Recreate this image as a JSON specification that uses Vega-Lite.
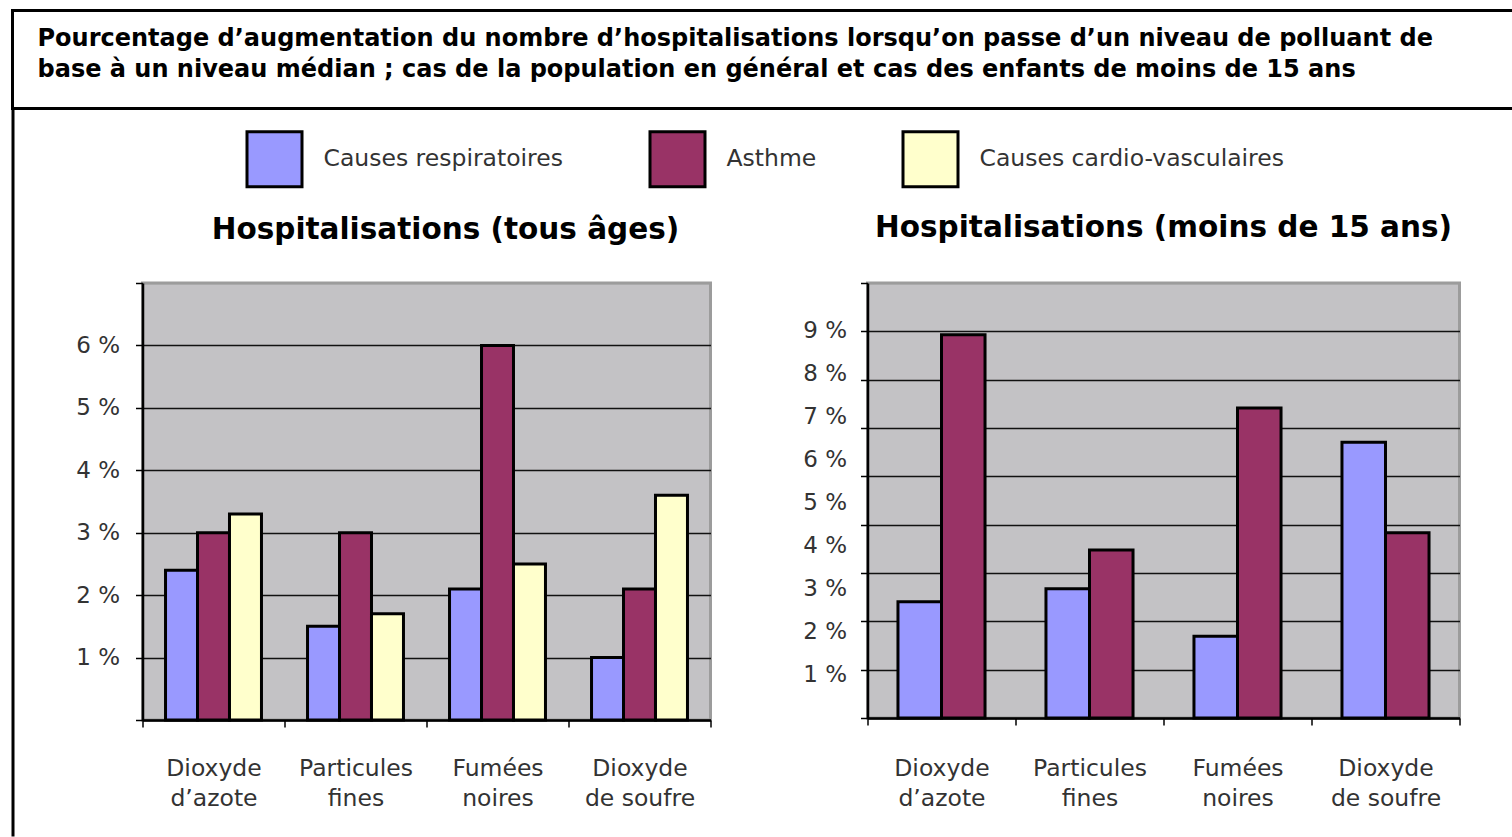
{
  "$schema": "https://vega.github.io/schema/vega-lite/v6.json",
  "padding": {"left": 10.5, "top": 8.5, "right": -6.5, "bottom": 0},
  "background": "#ffffff",
  "datasets": {
    "all": [
      {"pollutant": "Dioxyde d’azote", "cause": "Causes respiratoires", "value": 2.4},
      {"pollutant": "Dioxyde d’azote", "cause": "Asthme", "value": 3.0},
      {"pollutant": "Dioxyde d’azote", "cause": "Causes cardio-vasculaires", "value": 3.3},
      {"pollutant": "Particules fines", "cause": "Causes respiratoires", "value": 1.5},
      {"pollutant": "Particules fines", "cause": "Asthme", "value": 3.0},
      {"pollutant": "Particules fines", "cause": "Causes cardio-vasculaires", "value": 1.7},
      {"pollutant": "Fumées noires", "cause": "Causes respiratoires", "value": 2.1},
      {"pollutant": "Fumées noires", "cause": "Asthme", "value": 6.0},
      {"pollutant": "Fumées noires", "cause": "Causes cardio-vasculaires", "value": 2.5},
      {"pollutant": "Dioxyde de soufre", "cause": "Causes respiratoires", "value": 1.0},
      {"pollutant": "Dioxyde de soufre", "cause": "Asthme", "value": 2.1},
      {"pollutant": "Dioxyde de soufre", "cause": "Causes cardio-vasculaires", "value": 3.6}
    ],
    "kids": [
      {"pollutant": "Dioxyde d’azote", "cause": "Causes respiratoires", "value": 2.7},
      {"pollutant": "Dioxyde d’azote", "cause": "Asthme", "value": 8.9},
      {"pollutant": "Particules fines", "cause": "Causes respiratoires", "value": 3.0},
      {"pollutant": "Particules fines", "cause": "Asthme", "value": 3.9},
      {"pollutant": "Fumées noires", "cause": "Causes respiratoires", "value": 1.9},
      {"pollutant": "Fumées noires", "cause": "Asthme", "value": 7.2},
      {"pollutant": "Dioxyde de soufre", "cause": "Causes respiratoires", "value": 6.4},
      {"pollutant": "Dioxyde de soufre", "cause": "Asthme", "value": 4.3}
    ]
  },
  "spacing": -4.5,
  "vconcat": [
    {
      "width": 1505,
      "height": 98,
      "data": {"values": []},
      "mark": "point",
      "encoding": {},
      "view": {"stroke": "#000000", "strokeWidth": 3, "fill": "#ffffff"},
      "title": {
        "text": [
          "Pourcentage d’augmentation du nombre d’hospitalisations lorsqu’on passe d’un niveau de polluant de",
          "base à un niveau médian ; cas de la population en général et cas des enfants de moins de 15 ans"
        ],
        "orient": "top",
        "anchor": "start",
        "frame": "group",
        "baseline": "top",
        "offset": -71,
        "dx": 25,
        "font": "DejaVu Sans",
        "fontSize": 24,
        "fontWeight": "bold",
        "color": "#000000",
        "lineHeight": 31
      }
    },
    {
      "spacing": 60,
      "align": "none",
      "hconcat": [
        {
          "width": 1,
          "height": 553,
          "data": {"values": []},
          "mark": "point",
          "view": {"stroke": null, "fill": null},
          "encoding": {
            "y": {
              "field": "v",
              "type": "quantitative",
              "scale": {"domain": [0, 1], "range": [553, -176]},
              "axis": {
                "title": null,
                "labels": false,
                "ticks": false,
                "grid": false,
                "domain": true,
                "domainColor": "#000000",
                "domainWidth": 3
              }
            }
          }
        },
        {
          "spacing": -492,
          "resolve": {"legend": {"color": "independent"}, "scale": {"xOffset": "independent"}},
          "hconcat": [
            {
              "width": 568,
              "height": 437,
              "data": {"name": "all"},
              "view": {"fill": "#c3c2c5", "stroke": "#9c9c9c", "strokeWidth": 3},
              "title": {
                "text": "Hospitalisations (tous âges)",
                "font": "DejaVu Sans",
                "fontSize": 29.5,
                "fontWeight": "bold",
                "color": "#000000",
                "anchor": "middle",
                "frame": "group",
                "baseline": "bottom",
                "offset": 7.5,
                "dx": 19
              },
              "mark": {"type": "bar", "stroke": "#000000", "strokeWidth": 3},
              "encoding": {
                "x": {
                  "field": "pollutant",
                  "type": "nominal",
                  "sort": ["Dioxyde d’azote", "Particules fines", "Fumées noires", "Dioxyde de soufre"],
                  "scale": {"paddingInner": 0, "paddingOuter": 0},
                  "axis": {
                    "title": null,
                    "tickBand": "extent",
                    "labelAngle": 0,
                    "labelExpr": "indexof(datum.label, ' ') > 0 ? [substring(datum.label, 0, indexof(datum.label, ' ')), substring(datum.label, indexof(datum.label, ' ') + 1)] : datum.label",
                    "labelFont": "DejaVu Sans",
                    "labelFontSize": 23.5,
                    "labelLineHeight": 30,
                    "labelColor": "#333333",
                    "labelPadding": 29,
                    "tickSize": 7,
                    "tickColor": "#000000",
                    "tickWidth": 1.5,
                    "domainColor": "#000000",
                    "domainWidth": 2.5,
                    "grid": false
                  }
                },
                "xOffset": {
                  "field": "cause",
                  "type": "nominal",
                  "sort": ["Causes respiratoires", "Asthme", "Causes cardio-vasculaires"],
                  "scale": {"paddingInner": 0, "paddingOuter": 0.72}
                },
                "y": {
                  "field": "value",
                  "type": "quantitative",
                  "scale": {"domain": [0, 7], "nice": false},
                  "axis": {
                    "title": null,
                    "values": [0, 1, 2, 3, 4, 5, 6, 7],
                    "labelExpr": "datum.value >= 1 && datum.value <= 6 ? datum.value + ' %' : ''",
                    "labelFont": "DejaVu Sans",
                    "labelFontSize": 23,
                    "labelColor": "#333333",
                    "labelPadding": 16,
                    "tickSize": 7,
                    "tickColor": "#000000",
                    "tickWidth": 1.5,
                    "domainColor": "#000000",
                    "domainWidth": 2.5,
                    "grid": true,
                    "gridColor": {"condition": {"test": "datum.value == 7", "value": "#9c9c9c"}, "value": "#111111"},
                    "gridWidth": 1.5
                  }
                },
                "color": {
                  "field": "cause",
                  "type": "nominal",
                  "scale": {
                    "domain": ["Causes respiratoires", "Asthme", "Causes cardio-vasculaires"],
                    "range": ["#9999ff", "#993366", "#ffffcc"]
                  },
                  "legend": null
                }
              }
            },
            {
              "width": 592,
              "height": 435,
              "data": {"name": "kids"},
              "view": {"fill": "#c3c2c5", "stroke": "#9c9c9c", "strokeWidth": 3},
              "title": {
                "text": "Hospitalisations (moins de 15 ans)",
                "font": "DejaVu Sans",
                "fontSize": 29.5,
                "fontWeight": "bold",
                "color": "#000000",
                "anchor": "middle",
                "frame": "group",
                "baseline": "bottom",
                "offset": -164.5
              },
              "encoding": {
                "x": {
                  "field": "pollutant",
                  "type": "nominal",
                  "sort": ["Dioxyde d’azote", "Particules fines", "Fumées noires", "Dioxyde de soufre"],
                  "scale": {"paddingInner": 0, "paddingOuter": 0},
                  "axis": {
                    "title": null,
                    "tickBand": "extent",
                    "labelAngle": 0,
                    "labelExpr": "indexof(datum.label, ' ') > 0 ? [substring(datum.label, 0, indexof(datum.label, ' ')), substring(datum.label, indexof(datum.label, ' ') + 1)] : datum.label",
                    "labelFont": "DejaVu Sans",
                    "labelFontSize": 23.5,
                    "labelLineHeight": 30,
                    "labelColor": "#333333",
                    "labelPadding": 31,
                    "tickSize": 7,
                    "tickColor": "#000000",
                    "tickWidth": 1.5,
                    "domainColor": "#000000",
                    "domainWidth": 2.5,
                    "grid": false
                  }
                },
                "xOffset": {
                  "field": "cause",
                  "type": "nominal",
                  "sort": ["Causes respiratoires", "Asthme"],
                  "scale": {"paddingInner": 0, "paddingOuter": 0.7}
                }
              },
              "layer": [
                {
                  "mark": {"type": "bar", "opacity": 0},
                  "encoding": {
                    "y": {
                      "field": "value",
                      "type": "quantitative",
                      "scale": {"domain": [0, 9], "nice": false},
                      "axis": {
                        "orient": "left",
                        "title": null,
                        "values": [0, 1, 2, 3, 4, 5, 6, 7, 8, 9],
                        "labels": false,
                        "tickSize": 7,
                        "tickColor": "#000000",
                        "tickWidth": 1.5,
                        "domainColor": "#000000",
                        "domainWidth": 2.5,
                        "grid": true,
                        "gridColor": {"condition": {"test": "datum.value == 9", "value": "#9c9c9c"}, "value": "#111111"},
                        "gridWidth": 1.5
                      }
                    }
                  }
                },
                {
                  "mark": {"type": "bar", "stroke": "#000000", "strokeWidth": 3},
                  "encoding": {
                    "y": {
                      "field": "value",
                      "type": "quantitative",
                      "scale": {"domain": [0, 10.1], "nice": false},
                      "axis": {
                        "orient": "left",
                        "title": null,
                        "values": [1, 2, 3, 4, 5, 6, 7, 8, 9],
                        "labelExpr": "datum.value + ' %'",
                        "labelFont": "DejaVu Sans",
                        "labelFontSize": 23,
                        "labelColor": "#333333",
                        "labelPadding": 21,
                        "ticks": false,
                        "tickSize": 0,
                        "domain": false,
                        "grid": false
                      }
                    },
                    "color": {
                      "field": "cause",
                      "type": "nominal",
                      "scale": {
                        "domain": ["Causes respiratoires", "Asthme", "Causes cardio-vasculaires"],
                        "range": ["#9999ff", "#993366", "#ffffcc"]
                      },
                      "legend": {
                        "orient": "none",
                        "legendX": -644,
                        "legendY": -175,
                        "direction": "horizontal",
                        "title": null,
                        "symbolType": "square",
                        "symbolSize": 3025,
                        "symbolStrokeColor": "#000000",
                        "symbolStrokeWidth": 3,
                        "symbolOpacity": 1,
                        "labelFont": "DejaVu Sans",
                        "labelFontSize": 23.5,
                        "labelColor": "#333333",
                        "labelOffset": 20,
                        "labelLimit": 400,
                        "columnPadding": 80,
                        "padding": 22
                      }
                    }
                  }
                }
              ],
              "resolve": {"scale": {"y": "independent"}, "axis": {"y": "independent"}}
            }
          ]
        }
      ]
    }
  ],
  "config": {
    "font": "DejaVu Sans",
    "view": {"stroke": null}
  }
}
